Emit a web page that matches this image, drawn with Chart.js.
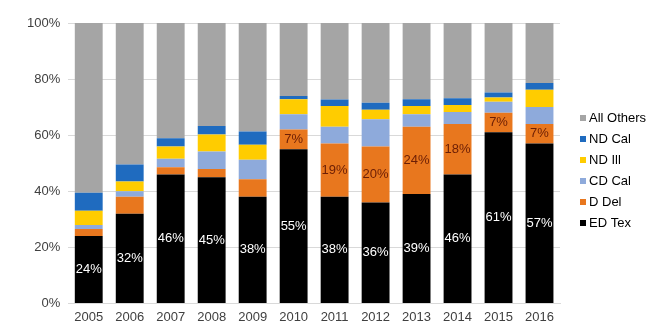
<!DOCTYPE html>
<html>
<head>
<meta charset="utf-8">
<script src="https://cdn.jsdelivr.net/npm/chart.js@4/dist/chart.umd.min.js"></script>
<style>
  html, body { margin: 0; padding: 0; background: #fff; }
  #wrap { width: 655px; height: 331px; }
</style>
</head>
<body>
<div id="wrap"><canvas id="shareChart"></canvas></div>
<script>
const years = ["2005", "2006", "2007", "2008", "2009", "2010", "2011", "2012", "2013", "2014", "2015", "2016"];

// share of each venue, percent
const edTex = [24, 32, 46, 45, 38, 55, 38, 36, 39, 46, 61, 57];
const dDel  = [2.5, 6, 2.6, 2.9, 6.3, 7, 19, 20, 24, 18, 7, 7];
const cdCal = [1.5, 2, 3, 6.3, 6.9, 5.5, 6, 9.7, 4.5, 4.3, 3.9, 6];
const ndIll = [5, 3.5, 4.4, 6, 5.4, 5.3, 7.4, 3.4, 2.9, 2.5, 1.5, 6.2];
const ndCal = [6.5, 6, 2.9, 3.1, 4.7, 1.2, 2.3, 2.5, 2.4, 2.4, 1.8, 2.4];
// whatever is left up to 100%
const allOthers = years.map((y, i) => 100 - edTex[i] - dDel[i] - cdCal[i] - ndIll[i] - ndCal[i]);

const yTicks = [0, 20, 40, 60, 80, 100];
const labelFrom = 2010; // D Del labels only shown from this year on

const fontFamily = "'Liberation Sans', Arial, sans-serif";

// write the value inside ED Tex bars and the later D Del bars
const barLabels = {
    id: 'barLabels',
    afterDatasetsDraw(chart) {
        const ctx = chart.ctx;
        ctx.save();
        ctx.font = "13px " + fontFamily;
        ctx.textAlign = 'center';
        ctx.textBaseline = 'middle';
        chart.data.datasets.forEach((ds, di) => {
            if (!ds.showLabels) return;
            const meta = chart.getDatasetMeta(di);
            meta.data.forEach((bar, i) => {
                if (ds.showLabels === 'late' && +years[i] < labelFrom) return;
                const mid = (bar.y + bar.base) / 2;
                ctx.fillStyle = ds.labelColor;
                ctx.fillText(Math.round(ds.data[i]) + '%', bar.x, mid);
            });
        });
        ctx.restore();
    }
};

// small square legend on the right, top series first
const sideLegend = {
    id: 'sideLegend',
    afterDraw(chart) {
        const ctx = chart.ctx;
        const items = chart.data.datasets.slice().reverse();
        const x = chart.chartArea.right + 20;
        const rowH = 21;
        let y = 118;
        ctx.save();
        ctx.font = "13px " + fontFamily;
        ctx.textBaseline = 'middle';
        items.forEach(ds => {
            ctx.fillStyle = ds.backgroundColor;
            ctx.fillRect(x, y - 3, 6, 6);
            ctx.fillStyle = '#000';
            ctx.fillText(ds.label, x + 9, y);
            y += rowH;
        });
        ctx.restore();
    }
};

const ctx = document.getElementById('shareChart').getContext('2d');
const chart = new Chart(ctx, {
    type: 'bar',
    data: {
        labels: years,
        datasets: [
            { label: 'ED Tex', data: edTex, backgroundColor: '#000000', showLabels: 'all', labelColor: '#ffffff' },
            { label: 'D Del', data: dDel, backgroundColor: '#E8771E', showLabels: 'late', labelColor: '#6b1e05' },
            { label: 'CD Cal', data: cdCal, backgroundColor: '#8EAADB' },
            { label: 'ND Ill', data: ndIll, backgroundColor: '#FFCC00' },
            { label: 'ND Cal', data: ndCal, backgroundColor: '#1F6BBF' },
            { label: 'All Others', data: allOthers, backgroundColor: '#A5A5A5' }
        ]
    },
    options: {
        responsive: true,
        maintainAspectRatio: false,
        animation: false,
        layout: { padding: { top: 23, right: 95, left: 19, bottom: 0 } },
        datasets: {
            bar: { categoryPercentage: 1, barPercentage: 0.68, borderWidth: 0 }
        },
        scales: {
            x: {
                stacked: true,
                grid: { display: false, drawTicks: false },
                border: { color: '#d9d9d9' },
                ticks: { color: '#404040', font: { family: fontFamily, size: 13 }, padding: 6 }
            },
            y: {
                stacked: true,
                min: 0,
                max: 100,
                afterBuildTicks(axis) { axis.ticks = yTicks.map(v => ({ value: v })); },
                grid: { color: '#d9d9d9', drawTicks: false },
                border: { display: false },
                ticks: {
                    color: '#404040',
                    padding: 8,
                    font: { family: fontFamily, size: 13 },
                    callback: v => v + '%'
                }
            }
        },
        plugins: {
            legend: { display: false },
            tooltip: { enabled: false }
        }
    },
    plugins: [barLabels, sideLegend]
});
</script>
</body>
</html>
